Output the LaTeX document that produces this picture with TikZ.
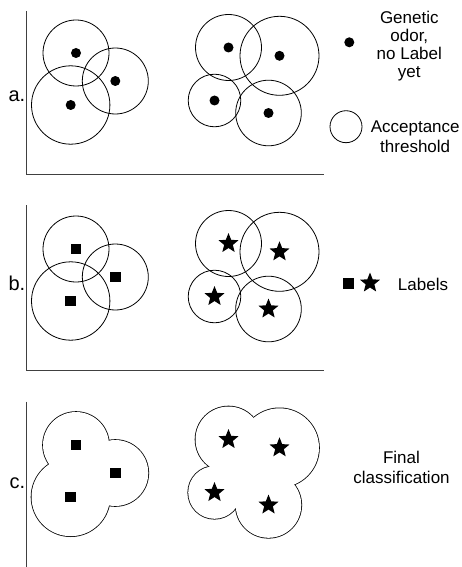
\documentclass[tikz,border=0pt]{standalone}
\usepackage{fontspec}
\setmainfont{Liberation Sans}
\usetikzlibrary{shapes.geometric,positioning}

\begin{document}
\begin{tikzpicture}
        [
            x=1pt,y=-1pt,
            axis/.style={draw=black!75, line width=0.9pt},
            zone/.style={draw=black, line width=0.8pt},
            odor/.style={circle, fill=black, inner sep=0pt, minimum size=10pt},
            lsq/.style={rectangle, fill=black, inner sep=0pt, minimum size=10.5pt},
            lstar/.style={star, star points=5, star point ratio=2.3, fill=black, inner sep=0pt, minimum size=21pt},
            tag/.style={font=\fontsize{20}{22}\selectfont, anchor=base east, inner sep=0pt},
            legend/.style={font=\fontsize{17}{20}\selectfont, align=center, inner sep=0pt},
        ]
        \useasboundingbox (0,0) rectangle (462,567);

        % a. odors with acceptance thresholds
        \draw[axis] (26.7,11) -- (26.7,174.5) -- (323.5,174.5);
        \node[tag] (tA) at (25.5,101.7) {a.};
        \foreach \px/\py/\r [count=\i] in {76/53/33, 115.3/81/33, 70.7/105/39.2, 228.5/47.5/33, 279.5/55.8/39.5, 214.5/100.5/26.3, 268.5/113/32.8}
        {
            \node[odor] (a\i) at (\px,\py) {};
            \draw[zone] (a\i) circle[radius=\r];
        }

        % b. labels
        \begin{scope}[yshift=-196pt]
        \draw[axis] (26.7,9) -- (26.7,174.5) -- (323.5,174.5);
        \node[tag] (tB) at (25.5,94) {b.};
        \foreach \px/\py/\r [count=\i] in {76/53/33, 115.3/81/33, 70.7/105/39.2}
        {
            \node[lsq] (b\i) at (\px,\py) {};
            \draw[zone] (b\i) circle[radius=\r];
        }
        \foreach \px/\py/\r [count=\i from 4] in {228.5/47.5/33, 279.5/55.8/39.5, 214.5/100.5/26.3, 268.5/113/32.8}
        {
            \node[lstar] (b\i) at (\px,\py) {};
            \draw[zone] (b\i) circle[radius=\r];
        }
        \end{scope}

        % c. final classification
        \begin{scope}[yshift=-392pt]
        \draw[axis] (26.7,9.7) -- (26.7,175);
        \node[tag] (tC) at (25.5,96.3) {c.};
        \foreach \px/\py/\r [count=\i] in {76/53/33, 115.3/81/33, 70.7/105/39.2, 228.5/47.5/33, 279.5/55.8/39.5, 214.5/100.5/26.3, 268.5/113/32.8}
            \coordinate (c\i) at (\px,\py);
        \foreach \r [count=\i] in {33,33,39.2,33,39.5,26.3,32.8}
            \draw[black, line width=1.6pt] (c\i) circle[radius=\r];
        \foreach \r [count=\i] in {33,33,39.2,33,39.5,26.3,32.8}
            \fill[white] (c\i) circle[radius=\r];
        \fill[white] (c4) -- (c5) -- (c7) -- (c6) -- cycle;
        \foreach \i in {1,2,3}
            \node[lsq] (cm\i) at (c\i) {};
        \foreach \i in {4,5,6,7}
            \node[lstar] (cm\i) at (c\i) {};
        \end{scope}

        % legend
        \node[odor] (kOdor) at (349.3,42.3) {};
        \node[legend, font=\fontsize{17}{18}\selectfont] (kOdorTxt) at (409.3,45.9) {Genetic\\odor,\\no Label\\yet};
        \node[circle, draw=black, line width=0.8pt, minimum size=32pt, inner sep=0pt] (kThr) at (346,126.7) {};
        \node[legend] (kThrTxt) at (415.2,136.9) {Acceptance\\threshold};
        \node[lsq] (kSq) at (348.3,283.3) {};
        \node[lstar] (kStar) at (370,283) {};
        \node[legend, anchor=base] (kLab) at (423,290) {Labels};
        \node[legend] (kFin) at (401.5,467.2) {Final\\classification};
\end{tikzpicture}
\end{document}
